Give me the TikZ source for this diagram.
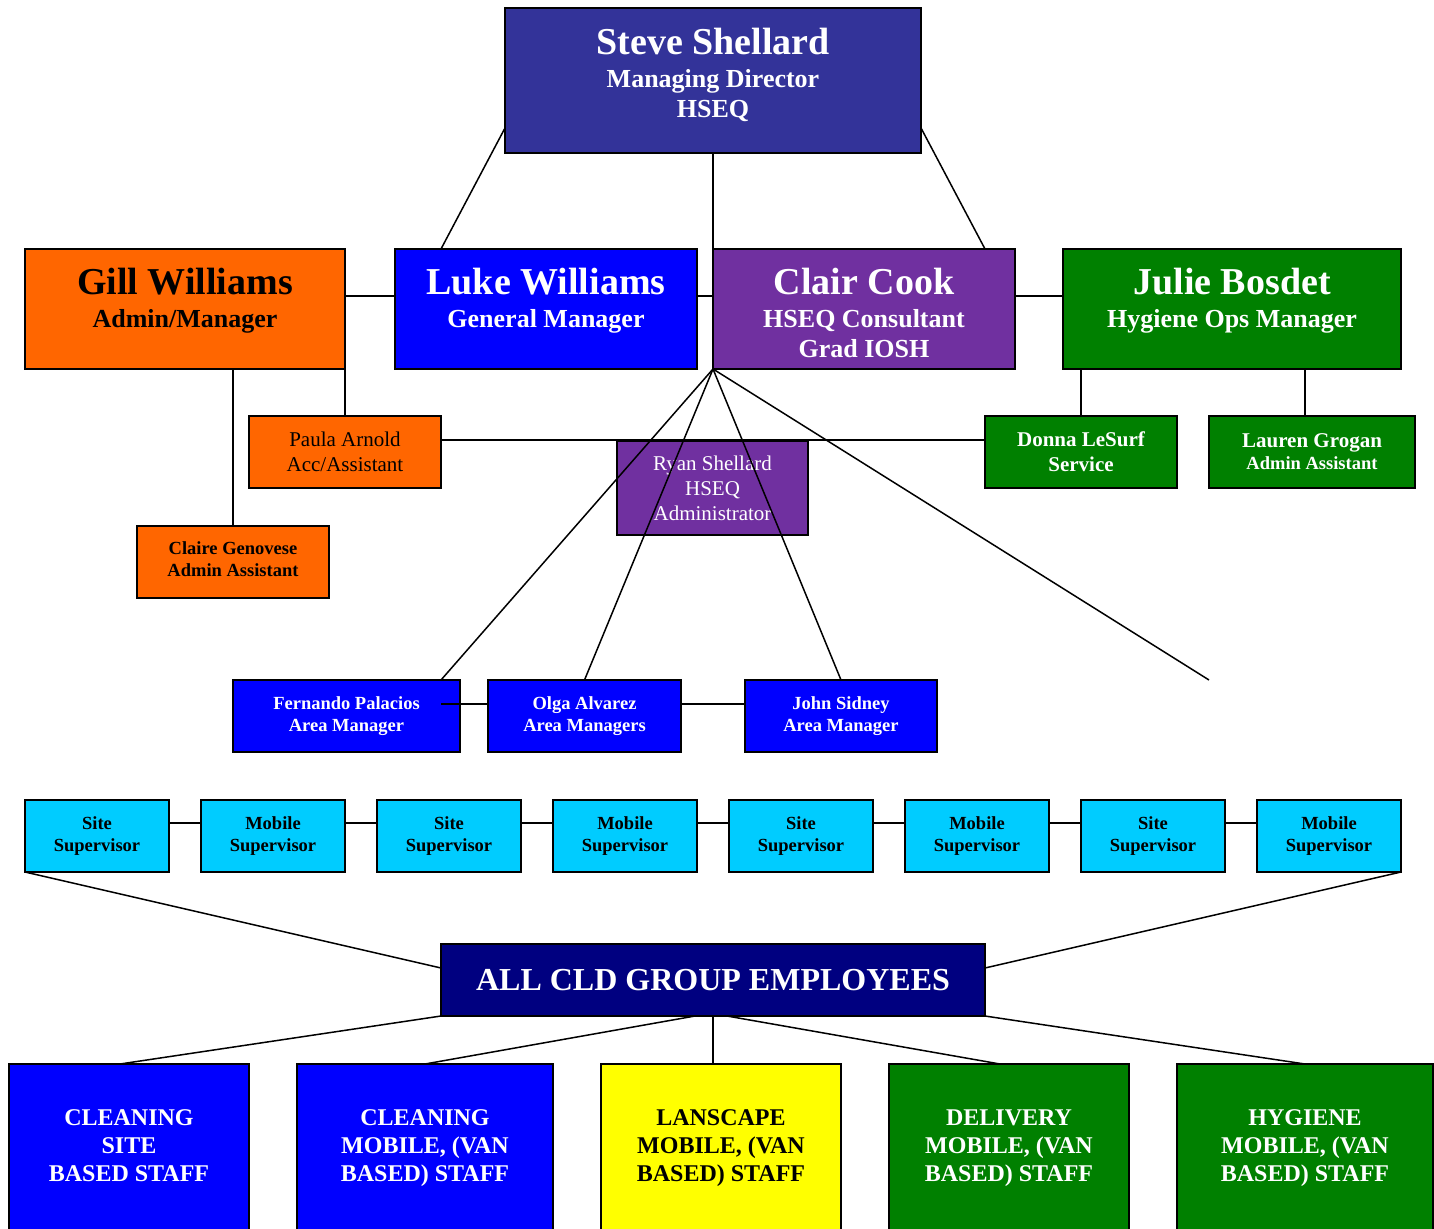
\documentclass[tikz,border=0pt]{standalone}
\usepackage{fontspec}
\setmainfont{Liberation Serif}
\usetikzlibrary{calc}

\definecolor{mdblue}{HTML}{333399}
\definecolor{hseqpurple}{HTML}{7030A0}
\definecolor{adminorange}{HTML}{FF6600}
\definecolor{hygienegreen}{HTML}{008000}
\definecolor{cleanblue}{HTML}{0000FF}
\definecolor{supcyan}{HTML}{00CCFF}
\definecolor{allnavy}{HTML}{000080}
\definecolor{landyellow}{HTML}{FFFF00}

\newcommand{\orgbig}{\fontsize{38}{38}\selectfont}
\newcommand{\orgsub}{\fontsize{26}{30}\selectfont}
\newcommand{\orgmid}{\fontsize{21}{25}\selectfont}
\newcommand{\orgsmall}{\fontsize{18.5}{21.5}\selectfont}
\newcommand{\orgstaff}{\fontsize{24}{28}\selectfont}
\newcommand{\orgall}{\fontsize{32}{36}\selectfont}
\newcommand{\orgdrop}[1]{\rule[-#1]{0pt}{#1}}

\tikzset{
 box/.style={draw, line width=1.5pt, inner sep=0pt, outer sep=0pt, align=center},
 head/.style={box, minimum width=#1, minimum height=120pt, font=\bfseries\orgsub},
 midbox/.style={box, minimum width=#1, minimum height=72pt, font=\orgmid},
 smallbox/.style={box, minimum width=#1, minimum height=72pt, font=\bfseries\orgsmall},
 staffbox/.style={box, minimum width=#1, minimum height=168pt, font=\bfseries\orgstaff},
 link/.style={line width=1.5pt}
}

\begin{document}
\begin{tikzpicture}[x=1pt,y=-1pt]
 \useasboundingbox (0,0) rectangle (1434,1228);
 \clip (0,0) rectangle (1434,1228);

 \node[head=416pt, minimum height=145pt, fill=mdblue, text=white] (steve) at (713,80.5) {{\orgbig Steve Shellard}\\[3pt] Managing Director\\ HSEQ\orgdrop{16pt}};
 \node[head=320pt, fill=adminorange] (gill) at (185,309) {{\orgbig Gill Williams}\\[3pt] Admin/Manager\orgdrop{23pt}};
 \node[head=302pt, fill=cleanblue, text=white] (luke) at (546,309) {{\orgbig Luke Williams}\\[3pt] General Manager\orgdrop{23pt}};
 \node[head=302pt, fill=hseqpurple, text=white] (clair) at (864,309) {\rule{0pt}{35pt}{\orgbig Clair Cook}\\[3pt] HSEQ Consultant\\ Grad IOSH};
 \node[head=338pt, fill=hygienegreen, text=white] (julie) at (1232,309) {{\orgbig Julie Bosdet}\\[3pt] Hygiene Ops Manager\orgdrop{23pt}};

 \node[midbox=192pt, fill=adminorange] (paula) at (345,452) {Paula Arnold\\ Acc/Assistant};
 \node[midbox=191pt, minimum height=94pt, fill=hseqpurple, text=white] (ryan) at (712.5,488) {Ryan Shellard\\ HSEQ\\ Administrator};
 \node[smallbox=192pt, fill=adminorange] (claireg) at (233,562) {Claire Genovese\\ Admin Assistant\orgdrop{6pt}};
 \node[midbox=192pt, fill=hygienegreen, text=white, font=\bfseries\orgmid] (donna) at (1081,452) {Donna LeSurf\\ Service};
 \node[smallbox=206pt, fill=hygienegreen, text=white] (lauren) at (1312,452) {{\orgmid Lauren Grogan}\\[0.5pt] Admin Assistant};

 \node[smallbox=227pt, fill=cleanblue, text=white] (fernando) at (346.5,716) {Fernando Palacios\\ Area Manager};
 \node[smallbox=193pt, fill=cleanblue, text=white] (olga) at (584.5,716) {Olga Alvarez\\ Area Managers};
 \node[smallbox=192pt, fill=cleanblue, text=white] (john) at (841,716) {John Sidney\\ Area Manager};

 \foreach \i/\role in {1/Site,2/Mobile,3/Site,4/Mobile,5/Site,6/Mobile,7/Site,8/Mobile}
  \node[smallbox=144pt, fill=supcyan] (sup\i) at ({97+176*(\i-1)},836) {\role\\ Supervisor};

 \node[box, minimum width=544pt, minimum height=72pt, fill=allnavy, text=white, font=\bfseries\orgall] (all) at (713,980) {ALL CLD GROUP EMPLOYEES};

 \node[staffbox=240pt, fill=cleanblue, text=white] (staff1) at (129,1148) {CLEANING\\ SITE\\ BASED STAFF\orgdrop{5pt}};
 \node[staffbox=256pt, fill=cleanblue, text=white] (staff2) at (425,1148) {CLEANING\\ MOBILE, (VAN\\ BASED) STAFF};
 \node[staffbox=240pt, fill=landyellow] (staff3) at (721,1148) {LANSCAPE\\ MOBILE, (VAN\\ BASED) STAFF};
 \node[staffbox=240pt, fill=hygienegreen, text=white] (staff4) at (1009,1148) {DELIVERY\\ MOBILE, (VAN\\ BASED) STAFF};
 \node[staffbox=256pt, fill=hygienegreen, text=white] (staff5) at (1305,1148) {HYGIENE\\ MOBILE, (VAN\\ BASED) STAFF};

 \coordinate (fanend) at (1209,680);

 \draw[link] (steve.south) -- (clair.north west);
 \draw[link] ($(steve.south west)+(0,-25)$) -- ($(luke.north west)+(46,0)$);
 \draw[link] ($(steve.south east)+(0,-25)$) -- ($(clair.north east)+(-30,0)$);
 \draw[link] ($(gill.east)+(0,-13)$) -- ($(luke.west)+(0,-13)$);
 \draw[link] ($(luke.east)+(0,-13)$) -- ($(clair.west)+(0,-13)$);
 \draw[link] ($(clair.east)+(0,-13)$) -- ($(julie.west)+(0,-13)$);
 \draw[link] (claireg.north |- gill.south) -- (claireg.north);
 \draw[link] (gill.south east) -- (paula.north);
 \draw[link] ($(paula.east)+(0,-12)$) -- ($(donna.west)+(0,-12)$);
 \draw[link] (donna.north |- julie.south) -- (donna.north);
 \draw[link] ($(julie.south east)+(-96,0)$) -- ($(lauren.north)+(-7,0)$);

 \draw[link] (clair.south west) -- ($(fernando.north east)+(-19,0)$);
 \draw[link] (clair.south west) -- (olga.north);
 \draw[link] (clair.south west) -- (john.north);
 \draw[link] (clair.south west) -- (fanend);
 \draw[link] ($(fernando.east)+(-19,-12)$) -- ($(olga.west)+(0,-12)$);
 \draw[link] ($(olga.east)+(0,-12)$) -- ($(john.west)+(0,-12)$);

 \foreach \i in {1,...,7}{
  \pgfmathtruncatemacro{\j}{\i+1}
  \draw[link] ($(sup\i.east)+(0,-13)$) -- ($(sup\j.west)+(0,-13)$);
 }
 \draw[link] (sup1.south west) -- ($(all.west)+(0,-12)$);
 \draw[link] (sup8.south east) -- ($(all.east)+(0,-12)$);

 \draw[link] (all.south west) -- ($(staff1.north)+(-9,0)$);
 \draw[link] ($(all.south)+(-18,0)$) -- (staff2.north);
 \draw[link] (all.south) -- (all.south |- staff3.north);
 \draw[link] ($(all.south)+(14,0)$) -- ($(staff4.north)+(-9,0)$);
 \draw[link] (all.south east) -- (staff5.north);
\end{tikzpicture}
\end{document}
